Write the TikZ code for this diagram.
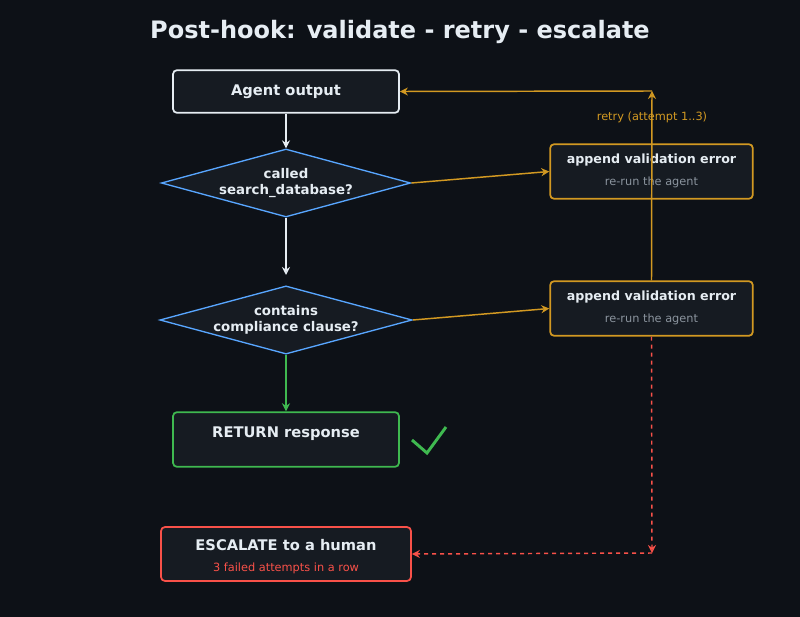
\documentclass[tikz,border=0pt]{standalone}
\usepackage{fontspec}
\setmainfont{DejaVu Sans}
\usetikzlibrary{shapes.geometric,arrows.meta}
\definecolor{bg}{HTML}{0D1117}
\definecolor{boxf}{HTML}{161B22}
\definecolor{wt}{HTML}{E6EDF3}
\definecolor{bl}{HTML}{58A6FF}
\definecolor{gr}{HTML}{3FB950}
\definecolor{rd}{HTML}{F85149}
\definecolor{og}{HTML}{D29922}
\definecolor{gy}{HTML}{8B949E}
\begin{document}
\begin{tikzpicture}[x=0.75pt,y=-0.75pt,
 box/.style={draw,fill=boxf,rounded corners=3pt,line width=1.3pt,inner sep=0pt,text=wt,align=center,font=\bfseries\fontsize{11}{13}\selectfont},
 dia/.style={diamond,draw=bl,fill=boxf,line width=1pt,inner sep=0pt,aspect=3.7,text=wt,align=center,font=\bfseries\fontsize{10}{12}\selectfont,minimum width=187pt,minimum height=51pt},
 arr/.style={-{Stealth[length=6pt,width=6pt,open]},line width=1.1pt},
 sub/.style={font=\fontsize{8.5}{10}\selectfont}]
\fill[bg] (0,0) rectangle (800,617);
\node[text=wt,font=\bfseries\fontsize{18}{22}\selectfont] (t) at (400,32) {Post-hook: validate - retry - escalate};
\node[box,draw=wt,minimum width=169.5pt,minimum height=32pt] (a) at (286,91.5) {Agent output};
\node[dia] (d1) at (286,183) {called\\search\_database?};
\node[dia] (d2) at (286,320) {contains\\compliance clause?};
\node[box,draw=gr,minimum width=169.5pt,minimum height=41pt] (r) at (286,439.5) {};
\node[text=wt,font=\bfseries\fontsize{11}{13}\selectfont] (rt) at (286,434) {RETURN response};
\node[box,draw=rd,minimum width=187.5pt,minimum height=40.5pt] (e) at (286,554) {};
\node[text=wt,font=\bfseries\fontsize{11}{13}\selectfont] (et) at (286,545) {ESCALATE to a human};
\node[text=rd,sub] (es) at (286,568) {3 failed attempts in a row};
\node[box,draw=og,minimum width=152pt,minimum height=41pt] (p1) at (651.5,171.5) {};
\node[text=wt,font=\bfseries\fontsize{9.5}{11}\selectfont] (p1t) at (651.5,160) {append validation error};
\node[text=gy,sub] (p1s) at (651.5,182) {re-run the agent};
\node[box,draw=og,minimum width=152pt,minimum height=41pt] (p2) at (651.5,308.5) {};
\node[text=wt,font=\bfseries\fontsize{9.5}{11}\selectfont] (p2t) at (651.5,297) {append validation error};
\node[text=gy,sub] (p2s) at (651.5,319) {re-run the agent};
\draw[gr,line width=2.2pt] (412,440) -- (427,453) -- (446,427);
\coordinate (c1) at (652,91);
\coordinate (c2) at (652,553);
\draw[arr,wt] (a.south) -- (d1.north);
\draw[arr,wt] (d1.south) -- (286,275);
\draw[arr,gr] (d2.south) -- (r.north);
\draw[arr,og] (d1.east) -- (p1.west);
\draw[arr,og] (d2.east) -- (p2.west);
\draw[arr,og] (p2.north) -- (c1);
\draw[arr,og] (c1) -- (a.east);
\node[text=og,sub] (rl) at (652,117) {retry (attempt 1..3)};
\draw[arr,rd,dashed] (p2.south) -- (c2);
\draw[arr,rd,dashed] (c2) -- (e.east);
\end{tikzpicture}
\end{document}
